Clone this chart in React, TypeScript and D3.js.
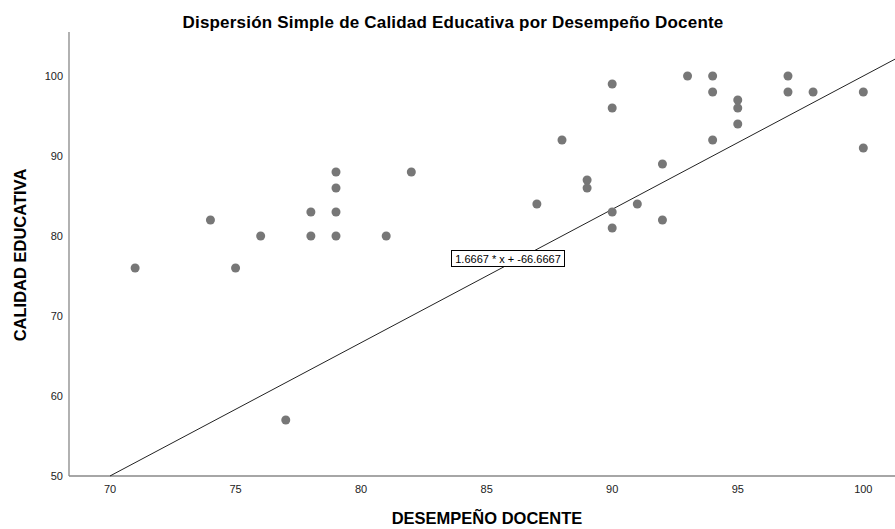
import React from 'react';
import {scaleLinear} from 'd3';

// desempeño docente (x) / calidad educativa (y)
const desempeno = [71, 74, 75, 76, 77, 78, 78, 79, 79, 79, 79, 81, 82, 87, 88, 89, 89, 90, 90, 90, 90, 91, 92, 92, 93, 94, 94, 94, 95, 95, 95, 97, 97, 98, 100, 100];
const calidad = [76, 82, 76, 80, 57, 83, 80, 88, 86, 83, 80, 80, 88, 84, 92, 87, 86, 99, 96, 83, 81, 84, 89, 82, 100, 100, 98, 92, 97, 96, 94, 100, 98, 98, 98, 91];

const xTicks = [70, 75, 80, 85, 90, 95, 100];
const yTicks = [50, 60, 70, 80, 90, 100];

// linea de ajuste
const slope = 1.6667;
const intercept = -66.6667;
const fitLabel = '1.6667 * x + -66.6667';

const W = 895;
const H = 529;
const left = 69;
const right = 895;
const top = 32;
const bottom = 476;

const App = () => {
  const x = scaleLinear().domain([68.367, 101.262]).range([left, right]);
  const y = scaleLinear().domain([50, 105.5]).range([bottom, top]);

  const x0 = 70;
  const x1 = 101.262;
  const font = '"Liberation Sans", Arial, sans-serif';

  return (
    <svg width={W} height={H} style={{position: 'absolute', left: 0, top: 0, background: '#fff'}} fontFamily={font}>
      <text x={453} y={28} textAnchor="middle" fontSize={17} fontWeight="bold" letterSpacing={0.2} fill="#000">
        Dispersión Simple de Calidad Educativa por Desempeño Docente
      </text>

      {/* ejes */}
      <line x1={left} y1={top} x2={left} y2={bottom} stroke="#888" strokeWidth={1.3}/>
      <line x1={left} y1={bottom} x2={right} y2={bottom} stroke="#888" strokeWidth={1.3}/>

      {yTicks.map(t => (
        <text key={t} x={63} y={y(t)} dy="0.35em" textAnchor="end" fontSize={11} fill="#222">{t}</text>
      ))}
      {xTicks.map(t => (
        <text key={t} x={x(t)} y={493} textAnchor="middle" fontSize={11} fill="#222">{t}</text>
      ))}

      <text x={487} y={524} textAnchor="middle" fontSize={16.5} fontWeight="bold" fill="#000">DESEMPEÑO DOCENTE</text>
      <text transform="translate(26,255) rotate(-90)" textAnchor="middle" fontSize={16.5} fontWeight="bold" fill="#000">CALIDAD EDUCATIVA</text>

      <line
        x1={x(x0)} y1={y(slope * x0 + intercept)}
        x2={x(x1)} y2={y(slope * x1 + intercept)}
        stroke="#222" strokeWidth={1}/>

      {desempeno.map((d, i) => (
        <circle key={i} cx={x(d)} cy={y(calidad[i])} r={4.5} fill="#777"/>
      ))}

      <rect x={451.5} y={250.5} width={113} height={16} fill="#fff" stroke="#000" strokeWidth={1}/>
      <text x={508} y={262.5} textAnchor="middle" fontSize={11} fill="#000">{fitLabel}</text>
    </svg>
  );
};

export default App;
